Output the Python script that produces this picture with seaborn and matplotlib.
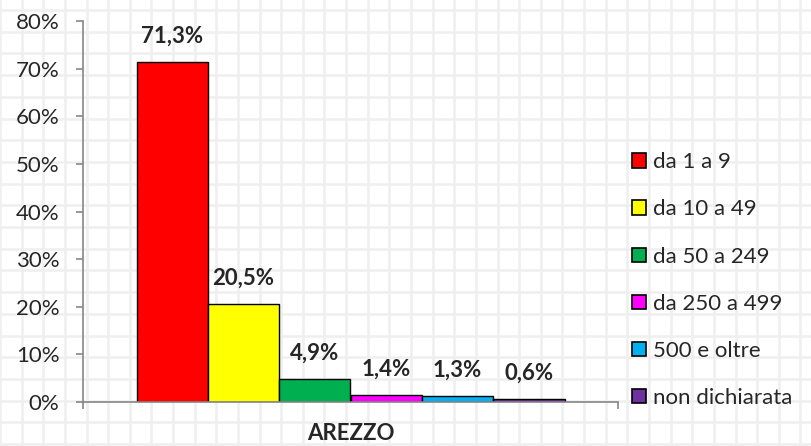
import numpy as np
import pandas as pd
import seaborn as sns
import matplotlib.pyplot as plt

# data
region = ['AREZZO']
classes = ['da 1 a 9', 'da 10 a 49', 'da 50 a 249', 'da 250 a 499', '500 e oltre', 'non dichiarata']
shares = [71.3, 20.5, 4.9, 1.4, 1.3, 0.6]
colors = ['#FF0000', '#FFFF00', '#00B050', '#FF00FF', '#00B0F0', '#7030A0']

df = pd.DataFrame({'area': region * len(classes), 'classe': classes, 'quota': shares})

sns.set_style('white')
plt.rcParams['font.family'] = ['Lato', 'DejaVu Sans']
fs = 16

fig = plt.figure(figsize=(8.11, 4.46), dpi=100)

# graph-paper background
bg = fig.add_axes([0, 0, 1, 1], zorder=-10)
bg.set_xlim(0, 811)
bg.set_ylim(446, 0)
bg.set_xticks(np.arange(-2.5, 811, 21.7))
bg.set_yticks(np.arange(10, 446, 21.7))
bg.grid(True, color='#efefef', linewidth=1.8)
bg.tick_params(length=0, labelbottom=False, labelleft=False)
for s in bg.spines.values():
    s.set_visible(False)

ax = fig.add_axes([83 / 811, 44 / 446, 535 / 811, 381 / 446])
ax.patch.set_alpha(0)
sns.barplot(data=df, x='area', y='quota', hue='classe', hue_order=classes,
            palette=colors, saturation=1, width=0.8, edgecolor='black',
            linewidth=1.0, legend=False, ax=ax)

ax.set_xlim(-0.5, 0.5)
ax.set_ylim(0, 80)
ax.set_yticks(range(0, 81, 10))
ax.set_yticklabels([f'{v}%' for v in range(0, 81, 10)], fontsize=fs)
ax.tick_params(axis='y', length=5, color='#868686', width=1.2, pad=12, left=True)
ax.set_xticks([0])
ax.set_xticklabels(['AREZZO'], fontsize=fs, fontweight='bold')
ax.tick_params(axis='x', which='major', length=0, pad=15)
ax.set_xticks([-0.5, 0.5], minor=True)
ax.tick_params(axis='x', which='minor', length=5, color='#868686', width=1.2, bottom=True)
ax.set_xlabel('')
ax.set_ylabel('')
for side in ['top', 'right']:
    ax.spines[side].set_visible(False)
for side in ['left', 'bottom']:
    ax.spines[side].set_color('#868686')
    ax.spines[side].set_linewidth(1.2)

for cont, v in zip(ax.containers, shares):
    ax.bar_label(cont, labels=[f'{v:.1f}%'.replace('.', ',')], padding=11,
                 fontsize=fs, fontweight='bold')

handles = [plt.Rectangle((0, 0), 1, 1, facecolor=c, edgecolor='black', linewidth=1.2)
           for c in colors]
ax.legend(handles, classes, loc='center left', bbox_to_anchor=(1.01, 0.32),
          frameon=False, fontsize=fs, handlelength=0.62, handleheight=0.62,
          handletextpad=0.3, labelspacing=1.22, borderaxespad=0)

fig.savefig('out.png', dpi=100)
